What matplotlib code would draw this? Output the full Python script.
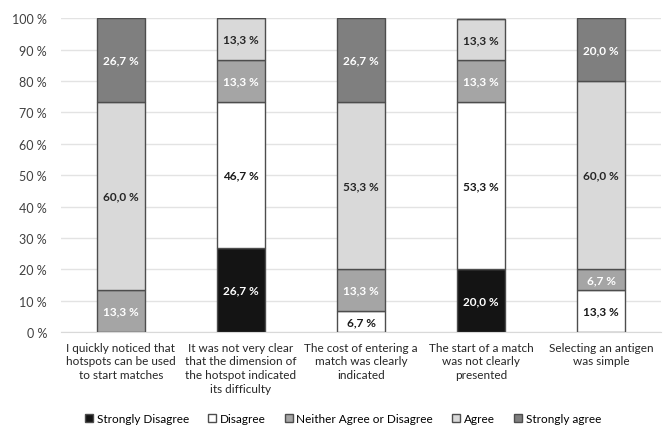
import numpy as np
import matplotlib.pyplot as plt

plt.rcParams['font.family'] = ['Lato', 'DejaVu Sans']

categories = ['I quickly noticed that\nhotspots can be used\nto start matches',
              'It was not very clear\nthat the dimension of\nthe hotspot indicated\nits difficulty',
              'The cost of entering a\nmatch was clearly\nindicated',
              'The start of a match\nwas not clearly\npresented',
              'Selecting an antigen\nwas simple']
series = ['Strongly Disagree', 'Disagree', 'Neither Agree or Disagree', 'Agree', 'Strongly agree']
strongly_disagree = [0, 26.7, 0, 20.0, 0]
disagree = [0, 46.7, 6.7, 53.3, 13.3]
neither = [13.3, 13.3, 13.3, 13.3, 6.7]
agree = [60.0, 13.3, 53.3, 13.3, 60.0]
strongly_agree = [26.7, 0, 26.7, 0, 20.0]

values = [strongly_disagree, disagree, neither, agree, strongly_agree]
colors = ['#141414', '#ffffff', '#a5a5a5', '#d9d9d9', '#7f7f7f']
text_colors = ['white', '#1a1a1a', 'white', '#262626', 'white']

fig, ax = plt.subplots(figsize=(6.68, 4.27), dpi=100)
fig.subplots_adjust(left=0.091, right=0.99, top=0.955, bottom=0.22)

x = np.arange(len(categories))
bottom = np.zeros(len(categories))
for vals, name, c, tc in zip(values, series, colors, text_colors):
    vals = np.array(vals)
    ax.bar(x, vals, 0.4, bottom=bottom, color=c, edgecolor='#4d4d4d',
           linewidth=1, label=name, zorder=3)
    for xi, v, b in zip(x, vals, bottom):
        if v > 0:
            ax.text(xi, b + v / 2, f'{v:.1f} %'.replace('.', ','), ha='center',
                    va='center', fontsize=8.5, fontweight='bold', color=tc, zorder=4)
    bottom += vals

ax.set_xlim(-0.5, 4.5)
ax.set_ylim(0, 100)
ax.set_yticks(np.arange(0, 101, 10))
ax.set_yticklabels([f'{v} %' for v in range(0, 101, 10)], fontsize=9, color='#404040')
ax.set_xticks(x)
ax.set_xticklabels(categories, fontsize=8.5, color='#262626', linespacing=1.3)
ax.tick_params(length=0, pad=7)
ax.tick_params(axis='y', pad=10)
ax.yaxis.grid(True, color='#e3e3e3', linewidth=1, zorder=0)
for s in ['top', 'right', 'left']:
    ax.spines[s].set_visible(False)
ax.spines['bottom'].set_color('#d9d9d9')

ax.legend(loc='center', bbox_to_anchor=(0.47, -0.277), ncol=5, frameon=False,
          fontsize=8.5, handlelength=0.7, handleheight=0.7, handletextpad=0.3,
          columnspacing=1.6)

plt.savefig('out.png', dpi=100)
